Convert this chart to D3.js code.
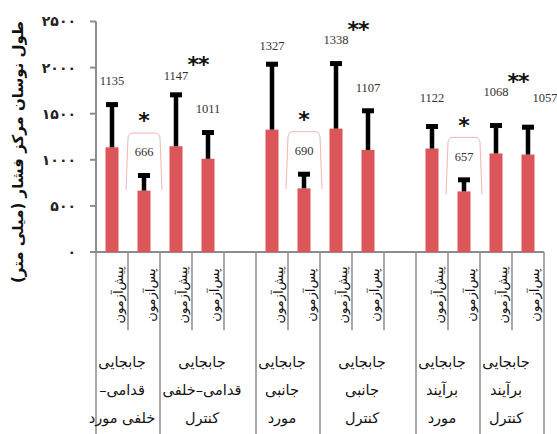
<!DOCTYPE html>
<html>
<head>
<meta charset="utf-8">
<script src="https://cdn.jsdelivr.net/npm/d3@7"></script>
<style>
  body { margin: 0; background: #fff; }
  svg { display: block; }
</style>
</head>
<body>
<div id="chart"></div>
<script>
// chart data
const slotKeys = ["s0","s1","s2","s3","s4","s5","s6","s7","s8","s9","s10","s11","s12","s13"];
const slotLabels = ["پیش‌آزمون","پس‌آزمون","پیش‌آزمون","پس‌آزمون","",
                    "پیش‌آزمون","پس‌آزمون","پیش‌آزمون","پس‌آزمون","",
                    "پیش‌آزمون","پس‌آزمون","پیش‌آزمون","پس‌آزمون"];
const means = [1135, 666, 1147, 1011, null, 1327, 690, 1338, 1107, null, 1122, 657, 1068, 1057];
const sds   = [480, 180, 574, 301, null, 726, 170, 722, 441, null, 255, 142, 320, 313];

const groupNames = [
  ["جابجایی", "قدامی–", "خلفی مورد"],
  ["جابجایی", "قدامی–خلفی", "کنترل"],
  ["جابجایی", "جانبی", "مورد"],
  ["جابجایی", "جانبی", "کنترل"],
  ["جابجایی", "برآیند", "مورد"],
  ["جابجایی", "برآیند", "کنترل"]
];
// first slot and end slot of each group box
const groupSlots = [[0, 2], [2, 5], [5, 7], [7, 10], [10, 12], [12, 14]];

const singleStarSlots = [1, 6, 11];   // "*" with bracket
const doubleStarSlots = [2, 7, 12];   // "**" over pre/post pair

const yTicks = [0, 500, 1000, 1500, 2000, 2500];
const yTickLabels = ["۰", "۵۰۰", "۱۰۰۰", "۱۵۰۰", "۲۰۰۰", "۲۵۰۰"];
const yTitle = "طول نوسان مرکز فشار (میلی متر)";

const width = 557, height = 434;
const axisLeft = 96, axisRight = 544, axisBottom = 252, axisTop = 21.5;

// small hand nudges of some value labels, [dx, dy] in px
const labelNudge = {2: [0, 4], 5: [0, 5], 10: [0, -5], 12: [0, -10], 13: [17, -6]};

let svg = d3.select("#chart")
    .append("svg")
    .attr("width", width)
    .attr("height", height);

let x = d3.scaleBand()
    .domain(slotKeys)
    .range([axisLeft, axisRight])
    .paddingInner(0)
    .paddingOuter(0);

let y = d3.scaleLinear()
    .domain([0, 2500])
    .range([axisBottom, axisTop]);

const gray = "#8c8c8c";
const barColor = "#dc5558";
const barW = 13;

// y axis line and ticks
svg.append("line")
    .attr("x1", axisLeft).attr("x2", axisLeft)
    .attr("y1", y(2500)).attr("y2", axisBottom)
    .attr("stroke", gray).attr("stroke-width", 2);

svg.selectAll(".ytick").data(yTicks).enter()
    .append("line")
    .attr("x1", axisLeft - 6).attr("x2", axisLeft)
    .attr("y1", d => y(d)).attr("y2", d => y(d))
    .attr("stroke", gray).attr("stroke-width", 2);

svg.selectAll(".ylab").data(yTicks).enter()
    .append("text")
    .attr("x", 76)
    .attr("y", d => y(d))
    .attr("dy", "0.35em")
    .attr("text-anchor", "end")
    .style("font", "bold 14px 'DejaVu Sans'")
    .attr("fill", "#222")
    .text((d, i) => yTickLabels[i]);

// y title
svg.append("text")
    .attr("transform", `translate(18, 152) rotate(-90)`)
    .attr("text-anchor", "middle")
    .attr("direction", "rtl")
    .attr("dy", "0.35em")
    .style("font", "bold 15px 'DejaVu Sans'")
    .attr("fill", "#111")
    .text(yTitle);

// x axis line
svg.append("line")
    .attr("x1", axisLeft).attr("x2", axisRight)
    .attr("y1", axisBottom).attr("y2", axisBottom)
    .attr("stroke", gray).attr("stroke-width", 2);

// vertical separators under the axis (long at group edges)
let groupEdges = new Set();
groupSlots.forEach(g => { groupEdges.add(g[0]); groupEdges.add(g[1]); });
let edges = d3.range(slotKeys.length + 1);
svg.selectAll(".sep").data(edges).enter()
    .append("line")
    .attr("x1", i => i < slotKeys.length ? x(slotKeys[i]) : axisRight)
    .attr("x2", i => i < slotKeys.length ? x(slotKeys[i]) : axisRight)
    .attr("y1", axisBottom)
    .attr("y2", i => groupEdges.has(i) ? height : 330)
    .attr("stroke", gray).attr("stroke-width", 1.5);

// bars
let data = slotKeys.map((k, i) => ({key: k, mean: means[i], sd: sds[i], label: slotLabels[i], i: i}))
    .filter(d => d.mean !== null);

svg.selectAll("rect.bar").data(data).enter()
    .append("rect")
    .attr("class", "bar")
    .attr("x", d => x(d.key) + x.bandwidth() / 2 - barW / 2)
    .attr("y", d => y(d.mean))
    .attr("width", barW)
    .attr("height", d => axisBottom - y(d.mean))
    .attr("fill", barColor);

// error bars (upward only)
svg.selectAll(".err").data(data).enter()
    .append("line")
    .attr("x1", d => x(d.key) + x.bandwidth() / 2)
    .attr("x2", d => x(d.key) + x.bandwidth() / 2)
    .attr("y1", d => y(d.mean))
    .attr("y2", d => y(d.mean + d.sd))
    .attr("stroke", "#000").attr("stroke-width", 4.5);

svg.selectAll(".cap").data(data).enter()
    .append("rect")
    .attr("x", d => x(d.key) + x.bandwidth() / 2 - 6)
    .attr("y", d => y(d.mean + d.sd) - 1)
    .attr("width", 12)
    .attr("height", 5)
    .attr("fill", "#000");

// value labels
const nudge = d => labelNudge[d.i] || [0, 0];
const labelY = d => y(d.mean + d.sd) - 22 + nudge(d)[1];
svg.selectAll(".val").data(data).enter()
    .append("text")
    .attr("x", d => x(d.key) + x.bandwidth() / 2 + nudge(d)[0])
    .attr("y", labelY)
    .attr("dy", "0.35em")
    .attr("text-anchor", "middle")
    .style("font", "12.5px 'Liberation Serif'")
    .attr("fill", "#333")
    .text(d => d.mean);

// brackets with single star
singleStarSlots.forEach(s => {
  let d = data.find(e => e.i === s);
  let cx = x(d.key) + x.bandwidth() / 2;
  let top = labelY(d) - 19, bottom = labelY(d) + 38;
  let x0 = cx - 18, x1 = cx + 18;
  svg.append("path")
      .attr("d", `M${x0},${bottom} L${x0 + 2},${top + 5} Q${x0 + 2.5},${top} ${x0 + 7},${top} L${x1 - 7},${top} Q${x1 - 2.5},${top} ${x1 - 2},${top + 5} L${x1},${bottom}`)
      .attr("fill", "none")
      .attr("stroke", "#f2b4b4")
      .attr("stroke-width", 1);
  svg.append("text")
      .attr("x", cx)
      .attr("y", top - 21)
      .attr("dy", "0.75em")
      .attr("text-anchor", "middle")
      .style("font", "bold 22px 'DejaVu Sans'")
      .attr("fill", "#111")
      .text("*");
});

// double stars over the pre/post pair
doubleStarSlots.forEach(s => {
  let d = data.find(e => e.i === s);
  let cx = x(d.key) + x.bandwidth() + 6;
  svg.append("text")
      .attr("x", cx)
      .attr("y", labelY(d) - 20)
      .attr("dy", "0.75em")
      .attr("text-anchor", "middle")
      .style("font", "bold 22px 'DejaVu Sans'")
      .style("letter-spacing", "-1px")
      .attr("fill", "#111")
      .text("**");
});

// rotated sub labels
svg.selectAll(".sub").data(data).enter()
    .append("text")
    .attr("transform", d => `translate(${x(d.key) + x.bandwidth() / 2 + 6}, 295) rotate(-90)`)
    .attr("text-anchor", "middle")
    .attr("dy", "0.35em")
    .style("font", "13px 'DejaVu Sans'")
    .attr("fill", "#111")
    .text(d => d.label);

// group labels
groupNames.forEach((lines, gi) => {
  let [a, b] = groupSlots[gi];
  let left = x(slotKeys[a]);
  let right = b < slotKeys.length ? x(slotKeys[b]) : axisRight;
  let cx = (left + right) / 2 - 6;
  lines.forEach((t, li) => {
    svg.append("text")
        .attr("x", cx)
        .attr("y", 362 + li * 28)
        .attr("dy", "0.35em")
        .attr("text-anchor", "middle")
        .attr("direction", "rtl")
        .style("font", "14.5px 'DejaVu Sans'")
        .attr("fill", "#111")
        .text(t);
  });
});
</script>
</body>
</html>
